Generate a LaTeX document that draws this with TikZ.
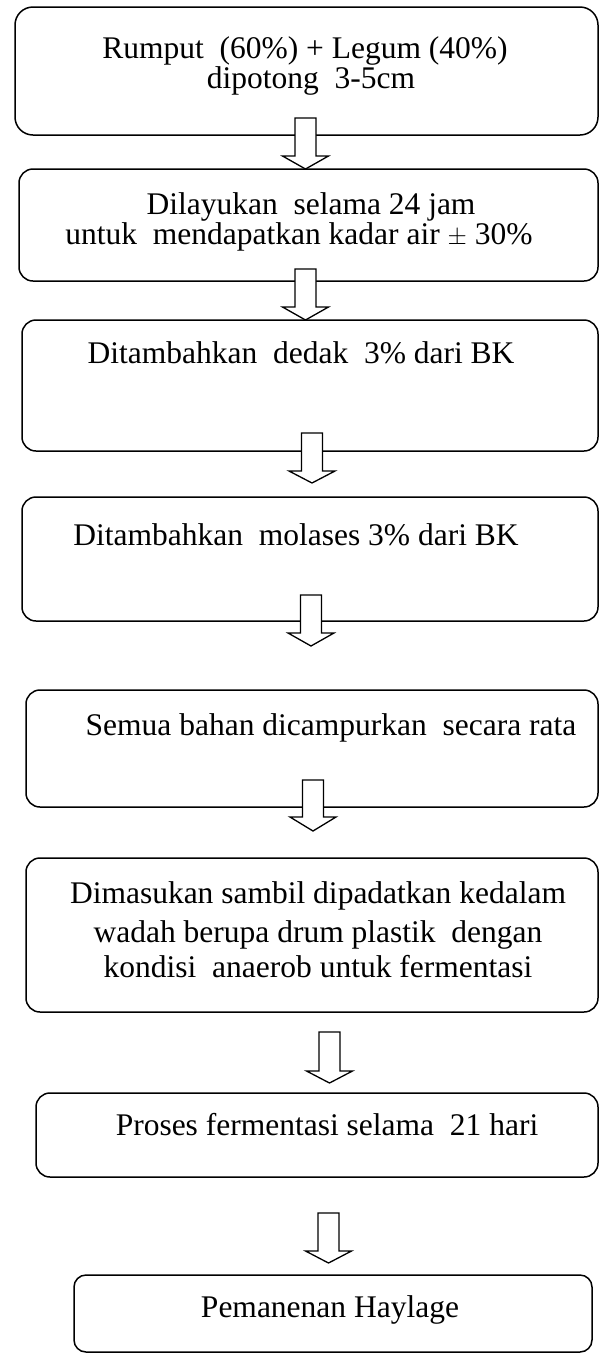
\documentclass[tikz,border=0pt]{standalone}
\usepackage{fontspec}
\setmainfont{Liberation Serif}
\begin{document}
\begin{tikzpicture}[x=1pt,y=-1pt,
  stepbox/.style={draw=black, line width=1.5pt, rounded corners=14pt, inner sep=0pt, fill=white},
  steptext/.style={anchor=base, inner sep=0pt, font=\fontsize{31.5}{28}\selectfont},
  pics/barrow/.style n args={2}{code={
    \draw[line width=1.3pt, fill=white, line join=miter]
      (-10.5,0) -- (10.5,0) -- (10.5,#1) -- (23,#1) -- (0,#2) -- (-23,#1) -- (-10.5,#1) -- cycle;
  }}]
\useasboundingbox (0,0) rectangle (600,1353);
\fill[white] (0,0) rectangle (600,1353);
% boxes
\node[stepbox, minimum width=583pt, minimum height=128pt, rounded corners=18pt] (b1) at (306.5,71) {};
\node[stepbox, minimum width=579pt, minimum height=112pt] (b2) at (308.5,225) {};
\node[stepbox, minimum width=576pt, minimum height=131pt] (b3) at (310,385.5) {};
\node[stepbox, minimum width=576pt, minimum height=124pt] (b4) at (310,559) {};
\node[stepbox, minimum width=572pt, minimum height=117pt] (b5) at (312,748.5) {};
\node[stepbox, minimum width=572pt, minimum height=154pt] (b6) at (312,935) {};
\node[stepbox, minimum width=562pt, minimum height=84pt] (b7) at (317,1135) {};
\node[stepbox, minimum width=518pt, minimum height=77pt, rounded corners=12pt] (b8) at (333,1313.5) {};
% texts
\node[steptext] (t1a) at (305,58) {Rumput\ \ (60\%) + Legum (40\%)};
\node[steptext] (t1b) at (311,88) {dipotong\ \ 3-5cm};
\node[steptext] (t2a) at (311,214) {Dilayukan\ \ selama 24 jam};
\node[steptext] (t2b) at (299,244) {untuk\ \ mendapatkan kadar air $\pm$ 30\%};
\node[steptext] (t3) at (301,363) {Ditambahkan\ \ dedak\ \ 3\% dari BK};
\node[steptext] (t4) at (296,545) {Ditambahkan\ \ molases 3\% dari BK};
\node[steptext] (t5) at (331,735) {Semua bahan dicampurkan\ \ secara rata};
\node[steptext] (t6a) at (318,903) {Dimasukan sambil dipadatkan kedalam};
\node[steptext] (t6b) at (318,942) {wadah berupa drum plastik\ \ dengan};
\node[steptext] (t6c) at (318,977) {kondisi\ \ anaerob untuk fermentasi};
\node[steptext] (t7) at (327,1135) {Proses fermentasi selama\ \ 21 hari};
\node[steptext] (t8) at (330,1317) {Pemanenan Haylage};
% block arrows
\pic at (305.5,118) {barrow={38}{51}};
\pic at (305.5,269) {barrow={38}{51}};
\pic at (312,433) {barrow={38}{50}};
\pic at (311,595) {barrow={38}{51}};
\pic at (313,780) {barrow={37}{51}};
\pic at (329.5,1032) {barrow={39}{51}};
\pic at (328.5,1213) {barrow={38}{50}};
\end{tikzpicture}
\end{document}
